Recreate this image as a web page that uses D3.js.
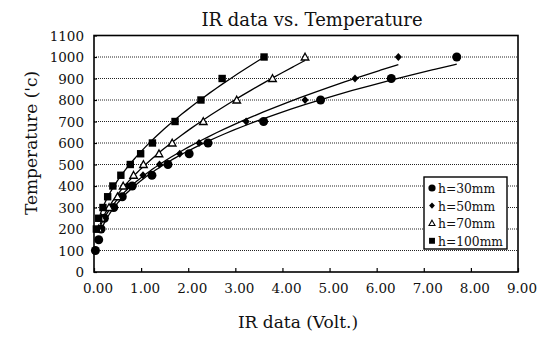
<!DOCTYPE html>
<html>
<head>
<meta charset="utf-8">
<script src="https://cdn.jsdelivr.net/npm/d3@7"></script>
<style>
  body { margin: 0; background: #fff; }
  text { font-family: "DejaVu Serif", "Liberation Serif", serif; fill: #111; }
</style>
</head>
<body>
<div id="chart"></div>
<script>
// data: [IR volt, temperature]
const h30 = [[0.03,100],[0.1,150],[0.15,200],[0.22,250],[0.42,300],[0.6,350],[0.81,400],[1.23,450],[1.57,500],[2.02,550],[2.42,600],[3.6,700],[4.81,800],[6.31,900],[7.7,1000]];
const h50 = [[0.12,200],[0.19,250],[0.38,300],[0.57,350],[0.71,400],[1.04,450],[1.39,500],[1.82,550],[2.23,600],[3.23,700],[4.48,800],[5.54,900],[6.46,1000]];
const h70 = [[0.1,200],[0.16,250],[0.32,300],[0.5,350],[0.62,400],[0.84,450],[1.05,500],[1.38,550],[1.66,600],[2.32,700],[3.03,800],[3.79,900],[4.48,1000]];
const h100 = [[0.05,200],[0.1,250],[0.19,300],[0.29,350],[0.4,400],[0.57,450],[0.77,500],[0.99,550],[1.24,600],[1.72,700],[2.27,800],[2.72,900],[3.61,1000]];
const seriesNames = ["h=30mm", "h=50mm", "h=70mm", "h=100mm"];
const seriesData = [h30, h50, h70, h100];
const xTicks = [0,1,2,3,4,5,6,7,8,9];
const yTicks = [0,100,200,300,400,500,600,700,800,900,1000,1100];

const W = 548, H = 340;
const margin = { top: 35.5, left: 94, bottom: 68, right: 30 };

const svg = d3.select("#chart").append("svg")
  .attr("width", W).attr("height", H);

const x = d3.scaleLinear().domain([0, 9]).range([margin.left, W - margin.right]);
const y = d3.scaleLinear().domain([0, 1100]).range([H - margin.bottom, margin.top]);

// gridlines
svg.append("g")
  .selectAll("line")
  .data(yTicks.filter(d => d > 0 && d < 1100))
  .enter().append("line")
  .attr("x1", x(0)).attr("x2", x(9))
  .attr("y1", d => y(d)).attr("y2", d => y(d))
  .attr("stroke", "#222")
  .attr("stroke-width", 1)
  .attr("stroke-dasharray", "1,1");

// frame
svg.append("rect")
  .attr("x", x(0)).attr("y", y(1100))
  .attr("width", x(9) - x(0)).attr("height", y(0) - y(1100))
  .attr("fill", "none").attr("stroke", "#000").attr("stroke-width", 1.6);

// Y axis
const yAxis = svg.append("g")
  .attr("transform", `translate(${x(0)},0)`)
  .call(d3.axisRight(y).tickValues(yTicks).tickSize(3).tickFormat(""));
yAxis.select(".domain").remove();
yAxis.selectAll("line").attr("stroke", "#000").attr("stroke-width", 1.2);
svg.append("g").selectAll("text")
  .data(yTicks).enter().append("text")
  .attr("x", x(0) - 10).attr("y", d => y(d) + 5)
  .attr("text-anchor", "end")
  .attr("font-size", 13.5)
  .text(d => d);

// X axis
const xAxis = svg.append("g")
  .attr("transform", `translate(0,${y(0)})`)
  .call(d3.axisTop(x).tickValues(xTicks).tickSize(4).tickFormat(""));
xAxis.select(".domain").remove();
xAxis.selectAll("line").attr("stroke", "#000").attr("stroke-width", 1.2);
svg.append("g").selectAll("text")
  .data(xTicks).enter().append("text")
  .attr("x", d => x(d) + 4).attr("y", y(0) + 21)
  .attr("text-anchor", "middle")
  .attr("font-size", 13.5)
  .text(d => d3.format(".2f")(d));

// trend lines: quadratic least squares in log-log space
function logQuadFit(pts) {
  const u = pts.map(p => Math.log(p[0])), w = pts.map(p => Math.log(p[1]));
  const S = k => d3.sum(u, v => Math.pow(v, k));
  const T = k => d3.sum(u, (v, i) => Math.pow(v, k) * w[i]);
  const A = [[S(0), S(1), S(2)], [S(1), S(2), S(3)], [S(2), S(3), S(4)]];
  const B = [T(0), T(1), T(2)];
  // gaussian elimination
  for (let i = 0; i < 3; i++) {
    for (let j = i + 1; j < 3; j++) {
      const f = A[j][i] / A[i][i];
      for (let k = i; k < 3; k++) A[j][k] -= f * A[i][k];
      B[j] -= f * B[i];
    }
  }
  const c = [0, 0, 0];
  for (let i = 2; i >= 0; i--) {
    let s = B[i];
    for (let k = i + 1; k < 3; k++) s -= A[i][k] * c[k];
    c[i] = s / A[i][i];
  }
  return v => { const l = Math.log(v); return Math.exp(c[0] + c[1] * l + c[2] * l * l); };
}
const line = d3.line().x(d => x(d[0])).y(d => y(d[1])).curve(d3.curveBasis);
seriesData.forEach(pts => {
  const f = logQuadFit(pts);
  const x0 = 0.13, x1 = d3.max(pts, p => p[0]);
  const samples = d3.range(0, 61).map(i => {
    const v = x0 * Math.pow(x1 / x0, i / 60);
    return [v, f(v)];
  });
  svg.append("path")
    .attr("d", line(samples))
    .attr("fill", "none").attr("stroke", "#000").attr("stroke-width", 1.3);
});

// markers
function marker(g, k) {
  if (k === 0) g.append("circle").attr("r", 4.5).attr("fill", "#000");
  else if (k === 1) g.append("path").attr("d", "M0,-4L3.6,0L0,4L-3.6,0Z").attr("fill", "#000");
  else if (k === 2) g.append("path").attr("d", "M0,-3.8L3.8,3L-3.8,3Z")
    .attr("fill", "#fff").attr("stroke", "#000").attr("stroke-width", 1.3);
  else g.append("rect").attr("x", -3.7).attr("y", -3.7).attr("width", 7.4).attr("height", 7.4).attr("fill", "#000");
}
seriesData.forEach((pts, k) => {
  svg.append("g").selectAll("g")
    .data(pts).enter().append("g")
    .attr("transform", d => `translate(${x(d[0])},${y(d[1])})`)
    .each(function () { marker(d3.select(this), k); });
});

// legend
const lg = svg.append("g").attr("transform", "translate(424,177)");
lg.append("rect").attr("width", 83).attr("height", 72)
  .attr("fill", "#fff").attr("stroke", "#000").attr("stroke-width", 1.4);
seriesNames.forEach((name, k) => {
  const row = lg.append("g").attr("transform", `translate(8,${11 + k * 17.6})`);
  const m = row.append("g").attr("transform", "scale(0.8)");
  marker(m, k);
  row.append("text").attr("x", 6).attr("y", 5).attr("font-size", 12.3).text(name);
});

// titles
svg.append("text").attr("x", 312).attr("y", 26)
  .attr("text-anchor", "middle").attr("font-size", 18)
  .text("IR data vs. Temperature");
svg.append("text").attr("x", 298).attr("y", 328)
  .attr("text-anchor", "middle").attr("font-size", 17)
  .text("IR data (Volt.)");
svg.append("text")
  .attr("transform", "translate(37,143) rotate(-90)")
  .attr("text-anchor", "middle").attr("font-size", 17)
  .text("Temperature ('c)");
</script>
</body>
</html>
